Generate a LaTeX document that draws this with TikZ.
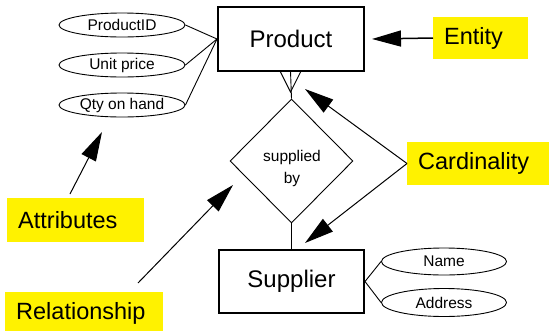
\documentclass[tikz,border=0pt]{standalone}
\usepackage{fontspec}
\setmainfont{Liberation Sans}
\usetikzlibrary{shapes.geometric,arrows.meta}
\begin{document}
\begin{tikzpicture}[x=1pt,y=-1pt,
  entitybox/.style={draw,line width=2pt,minimum width=146pt,minimum height=64pt,inner sep=0pt,font=\fontsize{24}{28}\selectfont},
  attr/.style={draw,ellipse,line width=0.9pt,minimum width=126pt,minimum height=24pt,inner sep=0pt,font=\fontsize{15.5}{18}\selectfont},
  note/.style={fill=yellow,anchor=west,inner xsep=11pt,inner ysep=0pt,minimum height=43pt,align=left,font=\fontsize{23.5}{27}\selectfont},
  arr/.style={-{Triangle[length=29pt,width=16pt]},line width=1pt},
  conn/.style={line width=0.9pt}]
\useasboundingbox (0,0) rectangle (549,330);
% entities
\node[entitybox] (product) at (291,39) {Product};
\node[entitybox,minimum width=145pt,minimum height=63pt] (supplier) at (291.5,281.5) {Supplier};
% relationship
\node[draw,diamond,line width=0.9pt,minimum width=123pt,minimum height=124pt,inner sep=0pt] (rel) at (291.5,161) {};
\node[font=\fontsize{15.5}{22}\selectfont,align=center,inner sep=0pt] (reltext) at (292,168) {supplied\\by};
% attributes
\node[attr] (pid) at (122,25) {ProductID};
\node[attr] (uprice) at (122,65) {Unit price};
\node[attr] (qty) at (122,105) {Qty on hand};
\node[attr,minimum width=125pt,minimum height=27pt] (name) at (444,261.5) {Name};
\node[attr,minimum width=125pt,minimum height=28pt] (address) at (444,302.5) {Address};
\draw[conn] (pid.east) -- (product.west);
\draw[conn] (uprice.east) -- (product.west);
\draw[conn] (qty.east) -- (product.west);
\draw[conn] (supplier.east) -- (name.west);
\draw[conn] (supplier.east) -- (address.west);
% crow's foot and relationship lines
\coordinate (foot) at (290.5,92);
\coordinate (footl) at (280,71);
\coordinate (footm) at (290.5,71);
\coordinate (footr) at (301,71);
\draw[conn] (footl) -- (foot) -- (footr);
\draw[conn] (footm) -- (rel.north);
\draw[conn] (rel.south) -- (supplier.north);
% notes
\node[note,text width=73pt,minimum height=42pt] (entity) at (433,38) {Entity};
\node[note,text width=120pt] (card) at (407,163.5) {Cardinality};
\node[note,text width=115pt,minimum height=44pt] (attributes) at (7,220) {Attributes};
\node[note,text width=136pt,minimum height=44pt] (relationship) at (5,313.5) {Relationship};
% arrows
\coordinate (enttip) at (372,39);
\coordinate (attrfrom) at (70,194);
\coordinate (attrtip) at (102,132);
\coordinate (relfrom) at (138,283);
\coordinate (reltip) at (233,185);
\coordinate (cardup) at (305,89);
\coordinate (carddown) at (305,243);
\draw[arr,line width=1.5pt] (entity.west) -- (enttip);
\draw[arr] (attrfrom) -- (attrtip);
\draw[arr] (relfrom) -- (reltip);
\draw[arr] (card.west) -- (cardup);
\draw[arr] (card.west) -- (carddown);
\end{tikzpicture}
\end{document}
